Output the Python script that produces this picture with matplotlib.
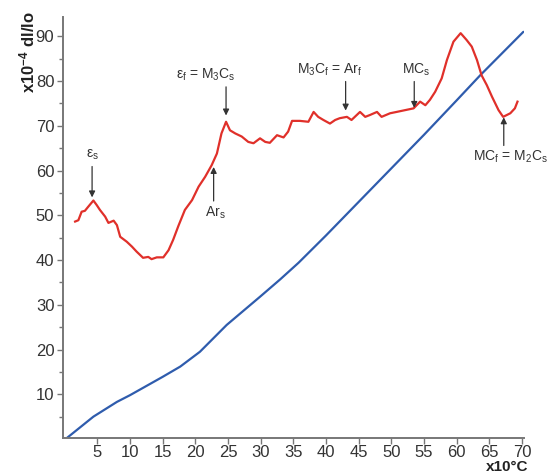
import matplotlib
matplotlib.use("Agg")
import matplotlib.pyplot as plt
from matplotlib.ticker import MultipleLocator

plt.rcParams['font.family'] = ['Liberation Sans', 'DejaVu Sans']
plt.rcParams['mathtext.fontset'] = 'custom'
plt.rcParams['mathtext.rm'] = 'Liberation Sans'
plt.rcParams['mathtext.it'] = 'Liberation Sans'
plt.rcParams['mathtext.bf'] = 'Liberation Sans:bold'

# Dilatometric curve (red) : temperature (x10 °C) vs dl/lo (x10^-4) derivative
red_x = [1.6, 2.1, 2.6, 3.1, 3.6, 4.4, 4.9, 5.4, 6.2, 6.7, 7.5, 8.0, 8.5, 9.5, 10.3, 11.0,
         12.0, 12.8, 13.3, 14.1, 15.1, 15.9, 16.6, 17.4, 18.4, 19.5, 20.5, 21.5, 22.5, 23.3,
         24.0, 24.7, 25.3, 26.1, 27.1, 28.1, 28.9, 29.9, 30.7, 31.4, 32.5, 33.5, 34.2, 34.8,
         36.0, 37.3, 38.1, 38.8, 39.6, 40.6, 41.4, 42.1, 43.2, 43.9, 45.2, 46.0, 46.7, 47.8,
         48.5, 49.8, 50.8, 52.1, 53.4, 54.4, 55.2, 55.9, 56.7, 57.7, 58.5, 59.5, 60.6, 61.5,
         62.3, 63.1, 63.8, 64.6, 65.4, 66.4, 67.1, 68.2, 68.9, 69.3]
red_y = [48.6, 48.9, 50.8, 51.0, 51.9, 53.3, 52.3, 51.2, 49.7, 48.3, 48.8, 47.8, 45.2, 44.1,
         43.0, 41.9, 40.5, 40.7, 40.2, 40.6, 40.6, 42.2, 44.5, 47.6, 51.2, 53.4, 56.4, 58.6,
         61.2, 63.8, 68.3, 70.9, 69.0, 68.3, 67.6, 66.4, 66.1, 67.2, 66.4, 66.2, 67.9, 67.4,
         68.7, 71.1, 71.1, 70.9, 73.1, 72.0, 71.3, 70.5, 71.3, 71.7, 72.0, 71.3, 73.1, 72.0,
         72.4, 73.1, 72.0, 72.8, 73.1, 73.5, 73.9, 75.4, 74.6, 75.8, 77.6, 80.6, 84.7, 88.8,
         90.7, 89.2, 87.7, 84.7, 81.3, 79.1, 76.5, 73.5, 72.0, 72.8, 73.9, 75.4]

# Dilatation curve (blue)
blue_x = [0.4, 4.4, 8.0, 10.0, 15.0, 17.7, 20.7, 24.8, 29.9, 33.0, 35.8, 40.0, 45.0, 50.0,
          55.0, 60.0, 63.6, 70.2]
blue_y = [0.3, 5.0, 8.3, 9.8, 13.9, 16.2, 19.5, 25.5, 31.8, 35.7, 39.4, 45.5, 53.0, 60.5,
          68.0, 75.7, 81.3, 91.0]

x_ticks = [5, 10, 15, 20, 25, 30, 35, 40, 45, 50, 55, 60, 65, 70]
y_ticks = [10, 20, 30, 40, 50, 60, 70, 80, 90]

# annotations: (label, arrow tip (x, y), text position (x, y))
annotations = [
    (r"ε$_\mathregular{s}$", (4.2, 54.0), (4.2, 63.5)),
    (r"ε$_\mathregular{f}$ = M$_\mathregular{3}$C$_\mathregular{s}$", (24.7, 72.3), (21.6, 81.3)),
    (r"Ar$_\mathregular{s}$", (22.8, 60.8), (23.0, 50.6)),
    (r"M$_\mathregular{3}$C$_\mathregular{f}$ = Ar$_\mathregular{f}$", (43.0, 73.4), (40.6, 82.5)),
    (r"MC$_\mathregular{s}$", (53.5, 74.0), (53.8, 82.5)),
    (r"MC$_\mathregular{f}$ = M$_\mathregular{2}$C$_\mathregular{s}$", (67.2, 71.9), (68.3, 63.0)),
]

fig = plt.figure(figsize=(5.47, 4.74), dpi=100)
ax = fig.add_axes([0.1146, 0.0766, 0.958 - 0.1146, 0.964 - 0.0766])

ax.plot(blue_x, blue_y, color='#2f5cad', lw=1.6, solid_capstyle='round')
ax.plot(red_x, red_y, color='#e0302a', lw=1.6, solid_joinstyle='round')

ax.set_xlim(-0.3, 70.3)
ax.set_ylim(0.3, 94.3)
ax.set_xticks(x_ticks)
ax.set_yticks(y_ticks)
ax.yaxis.set_minor_locator(MultipleLocator(5))

for s in ['top', 'right']:
    ax.spines[s].set_visible(False)
for s in ['left', 'bottom']:
    ax.spines[s].set_color('#777777')
    ax.spines[s].set_linewidth(1.4)

ax.tick_params(axis='both', which='major', labelsize=12, labelcolor='#333333',
               color='#777777', length=4, width=1, pad=2)
ax.tick_params(axis='x', which='major', pad=1)
ax.tick_params(axis='y', which='minor', color='#777777', length=3, width=1)

for label, tip, txt in annotations:
    ax.annotate("", xy=tip, xytext=(tip[0], txt[1] + (-2.6 if txt[1] > tip[1] else 2.6)),
                arrowprops=dict(arrowstyle='-|>', color='#333333', lw=0.9,
                                mutation_scale=9, shrinkA=0, shrinkB=0))
    ax.text(txt[0], txt[1], label, fontsize=10, color='#333333', ha='center', va='center')

fig.text(0.05, 0.89, r"x10$^\mathbf{-4}$ dl/lo", rotation=90, fontsize=12,
         fontweight='bold', ha='center', va='center', color='#222222')
fig.text(0.966, 0.0, "x10°C", fontsize=11, fontweight='bold', ha='right',
         va='bottom', color='#222222')

fig.savefig("out.png", dpi=100)
